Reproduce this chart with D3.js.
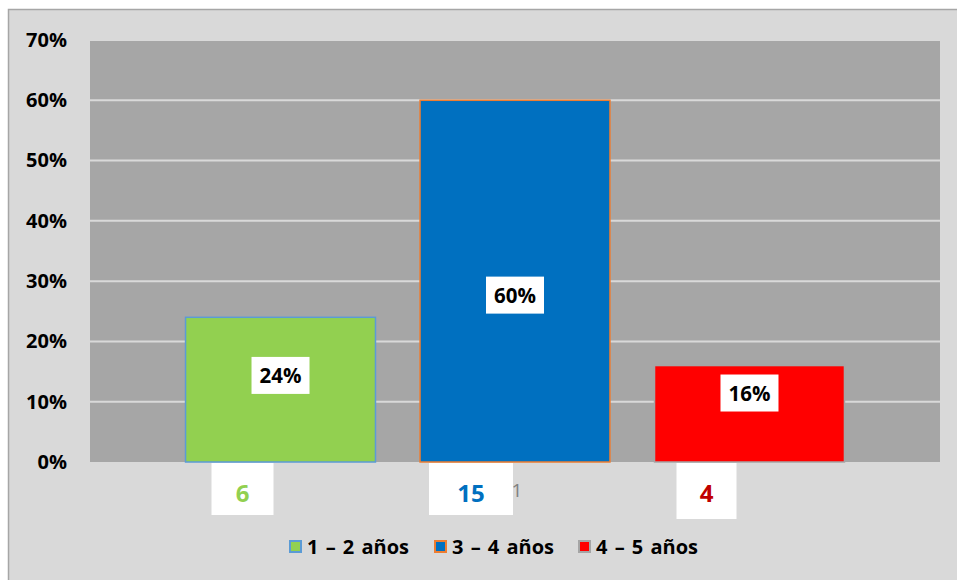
<!DOCTYPE html>
<html><head><meta charset="utf-8">
<script src="https://cdn.jsdelivr.net/npm/d3@7"></script>
<style>body{margin:0;background:#fff}svg{display:block}</style>
</head><body>
<svg id="c" width="957" height="580"></svg>
<script>
const categories = ["1"];
const series = ["1 – 2 años", "3 – 4 años", "4 – 5 años"];
const percentValues = [0.24, 0.60, 0.16];
const countValues = [6, 15, 4];
const yTicks = [0, 0.1, 0.2, 0.3, 0.4, 0.5, 0.6, 0.7];

const fills = ["#92d050", "#0070c0", "#ff0000"];
const strokes = ["#5b9bd5", "#ed7d31", "#a5a5a5"];
const countColors = ["#92d050", "#0070c0", "#c00000"];
const FONT = "'Open Sans', 'Noto Sans', sans-serif";

const svg = d3.select("#c");
svg.append("rect").attr("x", 8.5).attr("y", 9.5).attr("width", 957).attr("height", 580)
  .attr("fill", "#d9d9d9").attr("stroke", "#a6a6a6").attr("stroke-width", 1.5);

const m = {left: 90, top: 40, right: 17, bottom: 118};
const W = 957 - m.left - m.right, H = 580 - m.top - m.bottom;
const g = svg.append("g").attr("transform", `translate(${m.left},${m.top})`);

const y = d3.scaleLinear().domain([0, 0.7]).range([H, 0]);
const x0 = d3.scaleBand().domain(categories).range([0, W]).paddingInner(0).paddingOuter(0.145);
const x1 = d3.scaleBand().domain(series).range([0, x0.bandwidth()]).paddingInner(0.19).paddingOuter(0);

g.append("rect").attr("width", W).attr("height", H).attr("fill", "#a6a6a6");

g.selectAll("line.grid").data(yTicks.filter(d => d > 0)).join("line")
  .attr("class", "grid").attr("x1", 0).attr("x2", W)
  .attr("y1", d => y(d)).attr("y2", d => y(d))
  .attr("stroke", "#d9d9d9").attr("stroke-width", 2);

const yAxis = g.append("g").call(d3.axisLeft(y).tickValues(yTicks).tickFormat(d3.format(".0%")).tickSize(0).tickPadding(23));
yAxis.select(".domain").remove();
yAxis.selectAll("text").attr("font-family", FONT).attr("font-weight", "bold")
  .attr("font-size", 20).attr("fill", "#000");

// category axis label
const xAxis = g.append("g").attr("transform", `translate(0,${H})`)
  .call(d3.axisBottom(x0).tickSize(0).tickPadding(22));
xAxis.select(".domain").remove();
xAxis.selectAll("text").attr("font-family", FONT).attr("font-size", 19).attr("fill", "#808080")
  .attr("dx", "2");

const data = series.map((s, i) => ({s, v: percentValues[i], n: countValues[i], i}));
const bx = d => x0(categories[0]) + x1(d.s);

g.selectAll("rect.bar").data(data).join("rect").attr("class", "bar")
  .attr("x", d => bx(d)).attr("width", x1.bandwidth())
  .attr("y", d => y(d.v)).attr("height", d => H - y(d.v))
  .attr("fill", d => fills[d.i]).attr("stroke", d => strokes[d.i]).attr("stroke-width", 1.5);

// percentage labels (manually positioned within bar, as in source)
const labelFrac = [0.595, 0.46, 0.71];
const pl = g.selectAll("g.pl").data(data).join("g").attr("class", "pl")
  .attr("transform", d => `translate(${bx(d) + x1.bandwidth() / 2},${y(d.v * labelFrac[d.i])})`);
pl.append("rect").attr("x", -29).attr("y", -19).attr("width", 58).attr("height", 37).attr("fill", "#fff");
pl.append("text").text(d => d3.format(".0%")(d.v)).attr("text-anchor", "middle").attr("dy", "0.35em")
  .attr("font-family", FONT).attr("font-weight", "bold").attr("font-size", 20.5).attr("fill", "#000");

// count labels below axis
const cOff = [-38, -44, -43], cW = [62, 84, 60], cH = [52, 52, 56];
const cl = g.selectAll("g.cl").data(data).join("g").attr("class", "cl")
  .attr("transform", d => `translate(${bx(d) + x1.bandwidth() / 2 + cOff[d.i]},${H})`);
cl.append("rect").attr("x", d => -cW[d.i] / 2).attr("y", 1).attr("width", d => cW[d.i]).attr("height", d => cH[d.i]).attr("fill", "#fff");
cl.append("text").text(d => d.n).attr("text-anchor", "middle").attr("y", 32).attr("dy", "0.35em")
  .attr("font-family", FONT).attr("font-weight", "bold").attr("font-size", 24).attr("fill", d => countColors[d.i]);

// legend
const legX = [289, 434, 578];
const lg = svg.selectAll("g.lg").data(data).join("g").attr("class", "lg")
  .attr("transform", d => `translate(${legX[d.i]},547)`);
lg.append("rect").attr("x", 1).attr("y", -6).attr("width", 11).attr("height", 11)
  .attr("fill", d => fills[d.i]).attr("stroke", d => strokes[d.i]).attr("stroke-width", 2);
lg.append("text").text(d => d.s).attr("x", 18).attr("dy", "0.35em")
  .attr("font-family", FONT).attr("font-weight", "bold").attr("font-size", 20).attr("word-spacing", 2).attr("fill", "#000");
</script>
</body></html>
